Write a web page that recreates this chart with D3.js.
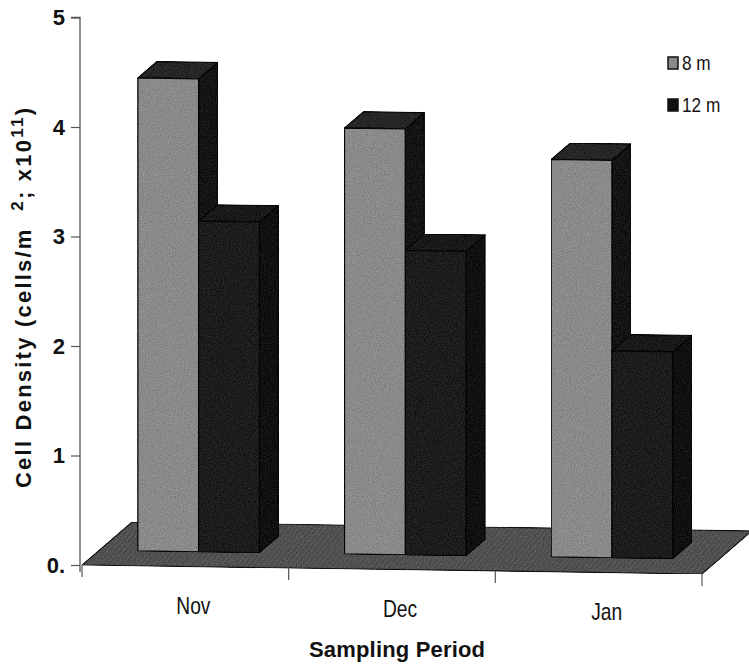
<!DOCTYPE html>
<html>
<head>
<meta charset="utf-8">
<script src="https://cdn.jsdelivr.net/npm/d3@7"></script>
<style>
    body { margin: 0; background: #fff; }
    text { font-family: "Liberation Sans", Arial, sans-serif; }
</style>
</head>
<body>
<div id="chart"></div>
<script>

    // data
    const categories = ["Nov", "Dec", "Jan"];
    const seriesNames = ["8 m", "12 m"];
    const values8m = [4.32, 3.89, 3.63];
    const values12m = [3.02, 2.78, 1.89];
    const yTicks = [0, 1, 2, 3, 4, 5];
    const yTickLabels = ["0.", "1", "2", "3", "4", "5"];

    const width = 749;
    const height = 665;

    // oblique projection of the 3d box
    const origin = [82, 565];      // front-left corner of floor
    const run = [620, 9];          // along the category axis
    const depth = [50, -43];       // floor depth
    const zFront = 0.34, zBack = 0.72;

    const y_scale = d3.scaleLinear()
        .domain([0, 5])
        .range([origin[1], origin[1] - 547.5]);

    const x_scale = d3.scaleBand()
        .domain(categories)
        .range([0, 1]);

    const s_scale = d3.scaleBand()
        .domain(seriesNames)
        .range([-0.006, x_scale.bandwidth() - 0.006])
        .paddingOuter(0.7);

    function proj(t, z, v) {
        let h = origin[1] - y_scale(v);
        return [origin[0] + run[0] * t + depth[0] * z,
                origin[1] + run[1] * t + depth[1] * z - h];
    }

    const svg = d3.select("#chart")
        .append("svg")
        .attr("width", width)
        .attr("height", height);

    // grain to mimic the scanned print (adds +/- noise, keeps the mean colour)
    const defs = svg.append("defs");
    const grain = defs.append("filter").attr("id", "grain")
        .attr("x", 0).attr("y", 0).attr("width", 1).attr("height", 1)
        .attr("color-interpolation-filters", "sRGB");
    grain.append("feTurbulence")
        .attr("type", "fractalNoise")
        .attr("baseFrequency", 0.85)
        .attr("numOctaves", 2)
        .attr("seed", 3)
        .attr("result", "noise");
    grain.append("feColorMatrix")
        .attr("in", "noise")
        .attr("type", "matrix")
        .attr("values", "1 0 0 0 0  1 0 0 0 0  1 0 0 0 0  0 0 0 0 1")
        .attr("result", "grey");
    grain.append("feComposite")
        .attr("in", "SourceGraphic").attr("in2", "grey")
        .attr("operator", "arithmetic")
        .attr("k1", 0).attr("k2", 1).attr("k3", 0.22).attr("k4", -0.11)
        .attr("result", "mixed");
    grain.append("feComposite")
        .attr("in", "mixed").attr("in2", "SourceAlpha")
        .attr("operator", "in");

    const hatch = defs.append("pattern")
        .attr("id", "hatch")
        .attr("patternUnits", "userSpaceOnUse")
        .attr("width", 4).attr("height", 4)
        .attr("patternTransform", "rotate(40)");
    hatch.append("rect").attr("width", 4).attr("height", 4).attr("fill", "#4e4e4e");
    hatch.append("line").attr("x1", 0).attr("y1", 0).attr("x2", 0).attr("y2", 4)
        .attr("stroke", "#626262").attr("stroke-width", 1.2);

    const line = d3.line();

    // floor
    svg.append("path")
        .attr("d", line([proj(0, 0, 0), proj(1, 0, 0), proj(1, 1, 0), proj(0, 1, 0)]) + "Z")
        .attr("fill", "url(#hatch)")
        .attr("stroke", "#111")
        .attr("stroke-width", 1.2)
        .attr("filter", "url(#grain)");

    // category axis ticks under the floor
    svg.append("g")
        .selectAll("line")
        .data(d3.range(categories.length + 1))
        .enter()
        .append("line")
            .attr("x1", i => proj(i / categories.length, 0, 0)[0])
            .attr("x2", i => proj(i / categories.length, 0, 0)[0])
            .attr("y1", i => proj(i / categories.length, 0, 0)[1])
            .attr("y2", i => proj(i / categories.length, 0, 0)[1] + 12)
            .attr("stroke", "#555")
            .attr("stroke-width", 1.2);

    // y axis
    const y_axis = d3.axisLeft(y_scale)
        .tickValues(yTicks)
        .tickSize(9)
        .tickPadding(6)
        .tickFormat((d, i) => yTickLabels[i]);

    svg.append("g")
        .attr("class", "y_axis")
        .attr("transform", `translate(${origin[0] - 2}, 0)`)
        .call(y_axis)
        .call(g => g.select(".domain").attr("stroke", "#555").attr("stroke-width", 1.3)
            .attr("d", `M-9,${y_scale(5)}H0V${origin[1] + 7}`))
        .call(g => g.selectAll(".tick line").attr("stroke", "#555").attr("stroke-width", 1.2))
        .call(g => g.selectAll(".tick text")
            .style("font-size", "22px")
            .style("font-weight", "bold")
            .attr("fill", "#111"));

    // bars, drawn left to right so later bars hide earlier side faces
    const faceColors = {
        "8 m": { front: "#8a8a8a", side: "#141414", top: "#262626" },
        "12 m": { front: "#1e1c1a", side: "#11100f", top: "#1a1918" }
    };

    let bars = [];
    categories.forEach((c, i) => {
        bars.push({ cat: c, s: "8 m", v: values8m[i] });
        bars.push({ cat: c, s: "12 m", v: values12m[i] });
    });

    const barG = svg.append("g");
    bars.forEach(b => {
        let t0 = x_scale(b.cat) + s_scale(b.s);
        let t1 = t0 + s_scale.bandwidth();
        let col = faceColors[b.s];
        let g = barG.append("g")
            .attr("stroke", "#050505")
            .attr("stroke-width", 1.3)
            .attr("stroke-linejoin", "round")
            .attr("filter", "url(#grain)");

        g.append("path")
            .attr("d", line([proj(t1, zFront, 0), proj(t1, zBack, 0), proj(t1, zBack, b.v), proj(t1, zFront, b.v)]) + "Z")
            .attr("fill", col.side);
        g.append("path")
            .attr("d", line([proj(t0, zFront, b.v), proj(t1, zFront, b.v), proj(t1, zBack, b.v), proj(t0, zBack, b.v)]) + "Z")
            .attr("fill", col.top);
        g.append("path")
            .attr("d", line([proj(t0, zFront, 0), proj(t1, zFront, 0), proj(t1, zFront, b.v), proj(t0, zFront, b.v)]) + "Z")
            .attr("fill", col.front);
    });

    // category labels (condensed like the printed face)
    svg.append("g")
        .selectAll("text")
        .data(categories)
        .enter()
        .append("text")
            .attr("transform", d => {
                let p = proj(x_scale(d) + x_scale.bandwidth() / 2, 0, 0);
                return `translate(${p[0] + 8}, ${p[1] + 47}) scale(0.8, 1)`;
            })
            .attr("text-anchor", "middle")
            .style("font-size", "24px")
            .attr("fill", "#111")
            .text(d => d);

    // legend
    const legend = svg.append("g")
        .selectAll("g")
        .data(seriesNames)
        .enter()
        .append("g")
            .attr("transform", (d, i) => `translate(668, ${57 + i * 42})`);

    legend.append("rect")
        .attr("width", 10).attr("height", 12)
        .attr("fill", d => d == "8 m" ? "#8a8a8a" : "#111")
        .attr("stroke", "#111")
        .attr("stroke-width", 1.5);

    legend.append("text")
        .attr("transform", "translate(14, 13) scale(0.82, 1)")
        .style("font-size", "21px")
        .attr("fill", "#111")
        .text(d => d);

    // axis titles
    svg.append("text")
        .attr("x", 397)
        .attr("y", 657)
        .attr("text-anchor", "middle")
        .attr("textLength", 176)
        .style("font-size", "22px")
        .style("font-weight", "bold")
        .attr("fill", "#111")
        .text("Sampling Period");

    const yTitle = svg.append("text")
        .attr("transform", "translate(31, 298) rotate(-90)")
        .attr("text-anchor", "middle")
        .attr("textLength", 380)
        .attr("lengthAdjust", "spacing")
        .style("font-size", "22px")
        .style("font-weight", "bold")
        .attr("fill", "#111");
    yTitle.append("tspan").text("Cell Density (cells/m\u00a0\u00a0");
    yTitle.append("tspan").attr("dy", -8).style("font-size", "17px").text("2");
    yTitle.append("tspan").attr("dy", 8).text("; x10");
    yTitle.append("tspan").attr("dy", -8).style("font-size", "17px").text("11");
    yTitle.append("tspan").attr("dy", 8).text(")");

</script>
</body>
</html>
